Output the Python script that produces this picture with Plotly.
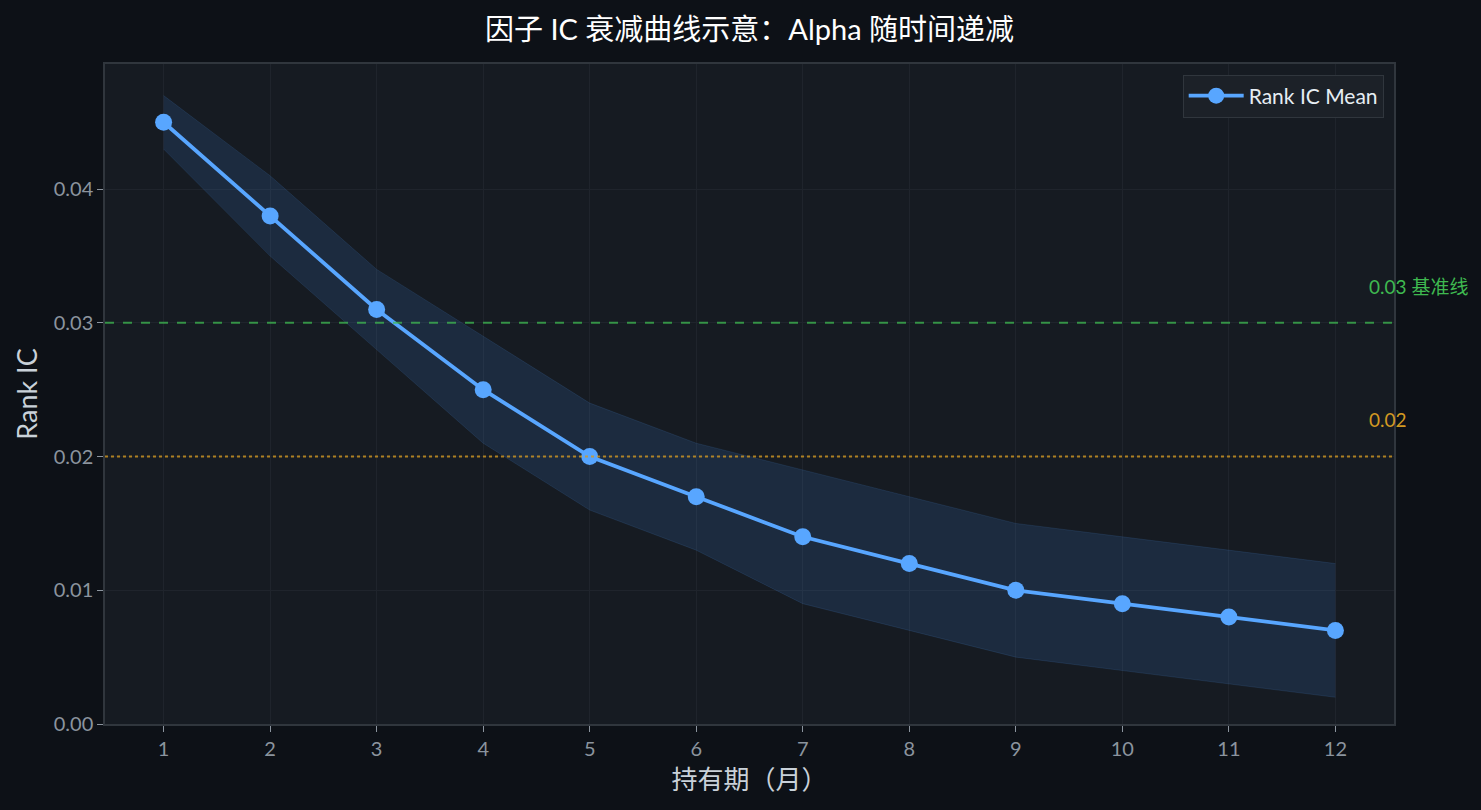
import plotly.graph_objects as go

periods = [1, 2, 3, 4, 5, 6, 7, 8, 9, 10, 11, 12]
ic_mean = [0.045, 0.038, 0.031, 0.025, 0.020, 0.017, 0.014, 0.012, 0.010, 0.009, 0.008, 0.007]
ic_upper = [0.047, 0.041, 0.034, 0.029, 0.024, 0.021, 0.019, 0.017, 0.015, 0.014, 0.013, 0.012]
ic_lower = [0.043, 0.035, 0.028, 0.021, 0.016, 0.013, 0.009, 0.007, 0.005, 0.004, 0.003, 0.002]
baseline_hi = 0.03
baseline_lo = 0.02
tick_vals = [0.0, 0.01, 0.02, 0.03, 0.04]

FONT = "Century Gothic, Lato, Noto Sans CJK SC, sans-serif"

fig = go.Figure()
fig.add_trace(go.Scatter(x=periods, y=ic_upper, mode="lines",
                         line=dict(color="rgba(88,166,255,0.12)", width=1),
                         showlegend=False, hoverinfo="skip"))
fig.add_trace(go.Scatter(x=periods, y=ic_lower, mode="lines",
                         line=dict(color="rgba(88,166,255,0.12)", width=1),
                         fill="tonexty", fillcolor="rgba(60,130,220,0.16)",
                         showlegend=False, hoverinfo="skip"))
fig.add_trace(go.Scatter(x=periods, y=ic_mean, mode="lines+markers", name="Rank IC Mean",
                         line=dict(color="#58a6ff", width=3.8),
                         marker=dict(color="#58a6ff", size=17)))

fig.add_hline(y=baseline_hi, line=dict(color="rgba(63,185,80,0.75)", width=2, dash="dash"))
fig.add_hline(y=baseline_lo, line=dict(color="rgba(210,153,34,0.8)", width=2, dash="dot"))

fig.add_annotation(x=12.3, y=baseline_hi + 0.0027, xref="x", yref="y", text="0.03 基准线",
                   showarrow=False, xanchor="left", yanchor="middle",
                   font=dict(color="#3fb950", size=19, family=FONT))
fig.add_annotation(x=12.3, y=baseline_lo + 0.0028, xref="x", yref="y", text="0.02",
                   showarrow=False, xanchor="left", yanchor="middle",
                   font=dict(color="#d29922", size=19, family=FONT))

fig.update_layout(
    width=1481, height=810,
    paper_bgcolor="#0d1117", plot_bgcolor="#161b22",
    margin=dict(l=105, r=87, t=64, b=86),
    font=dict(family=FONT, color="#c9d1d9"),
    title=dict(text="因子 IC 衰减曲线示意：Alpha 随时间递减", x=0.5, xref="paper", xanchor="center",
               y=0.963, yanchor="middle", font=dict(size=29, color="#ffffff", family=FONT)),
    legend=dict(x=0.992, y=0.984, xanchor="right", yanchor="top",
                bgcolor="#1c2128", bordercolor="#30363d", borderwidth=1,
                itemwidth=55, tracegroupgap=0,
                font=dict(size=21, color="#e6edf3", family=FONT)),
    showlegend=True,
)
fig.update_xaxes(range=[0.45, 12.55], tickvals=periods, ticks="outside", ticklen=6,
                 tickcolor="#8b949e", tickfont=dict(size=20, color="#8b949e"),
                 showgrid=True, gridcolor="#1f242c", gridwidth=1, zeroline=False,
                 showline=True, linecolor="#30363d", linewidth=1.5, mirror=True,
                 title=dict(text="持有期（月）", font=dict(size=26, color="#c9d1d9"), standoff=12))
fig.update_yaxes(range=[0, 0.04936], tickvals=tick_vals, tickformat=".2f", ticks="outside",
                 ticklen=6, tickcolor="#8b949e", tickfont=dict(size=20, color="#8b949e"),
                 showgrid=True, gridcolor="#1f242c", gridwidth=1, zeroline=False,
                 showline=True, linecolor="#30363d", linewidth=1.5, mirror=True,
                 title=dict(text="Rank IC", font=dict(size=27, color="#c9d1d9"), standoff=8))

fig.write_html("out.html")
